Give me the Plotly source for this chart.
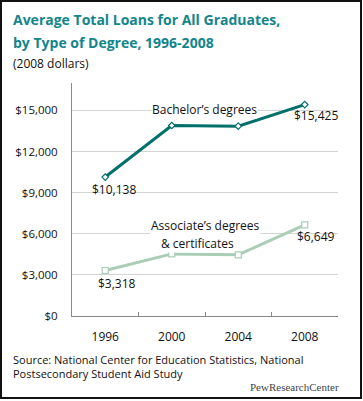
import plotly.graph_objects as go

years = ["1996", "2000", "2004", "2008"]
bachelor = [10138, 13900, 13850, 15425]
associate = [3318, 4530, 4460, 6649]
y_ticks = [0, 3000, 6000, 9000, 12000, 15000]
y_tick_text = ["$0", "$3,000", "$6,000", "$9,000", "$12,000", "$15,000"]

W, H = 363, 401
L, R, T, B = 72, 338, 83, 316
FONT = "Open Sans"

def px(x):
    return (x - L) / (R - L)

def py(y):
    return (B - y) / (B - T)

fig = go.Figure()
fig.add_trace(go.Scatter(
    x=years, y=associate, mode="lines+markers",
    line=dict(color="#a9cdb5", width=3),
    marker=dict(symbol="square", size=6, color="white",
                line=dict(color="#a9cdb5", width=1.2)),
    hoverinfo="skip", showlegend=False))
fig.add_trace(go.Scatter(
    x=years, y=bachelor, mode="lines+markers",
    line=dict(color="#00706a", width=3),
    marker=dict(symbol="diamond", size=5, color="white",
                line=dict(color="#00706a", width=1.2)),
    hoverinfo="skip", showlegend=False))

txt = dict(family=FONT, size=12, color="#111")
ann = []
# value labels (x given as category index)
ann.append(dict(x=0, y=bachelor[0], text="$10,138", showarrow=False,
                xanchor="center", yanchor="middle",
                xshift=9, yshift=-12, font=txt))
ann.append(dict(x=3, y=bachelor[3], text="$15,425", showarrow=False,
                xanchor="center", yanchor="middle",
                xshift=11, yshift=-11, font=txt))
ann.append(dict(x=0, y=associate[0], text="$3,318", showarrow=False,
                xanchor="center", yanchor="middle",
                xshift=12, yshift=-13, font=txt))
ann.append(dict(x=3, y=associate[3], text="$6,649", showarrow=False,
                xanchor="center", yanchor="middle",
                xshift=11, yshift=-12, font=txt))
# series labels
for x, y, t in [(204, 109, "Bachelor\u2019s degrees"),
                (205, 225, "Associate\u2019s degrees"),
                (197, 243, "& certificates")]:
    ann.append(dict(xref="paper", yref="paper", x=px(x), y=py(y),
                    xanchor="center", yanchor="middle",
                    text=t, showarrow=False, font=txt, bgcolor="white",
                    borderpad=0))
# title
TITLE_FONT = dict(family=FONT, size=14, color="#12858c")
for y, t, f in [(19, "<b>Average Total Loans for All Graduates,</b>", TITLE_FONT),
                (42, "<b>by Type of Degree, 1996-2008</b>", TITLE_FONT),
                (63, "(2008 dollars)", txt)]:
    ann.append(dict(xref="paper", yref="paper", x=px(11), y=py(y),
                    xanchor="left", yanchor="middle", showarrow=False,
                    text=t, font=f))
# source
for y, t in [(359, "Source: National Center for Education Statistics, National"),
             (373, "Postsecondary Student Aid Study")]:
    ann.append(dict(xref="paper", yref="paper", x=px(11), y=py(y),
                    xanchor="left", yanchor="middle", showarrow=False,
                    text=t, font=dict(family=FONT, size=11, color="#111")))
ann.append(dict(xref="paper", yref="paper", x=px(341), y=py(387),
                xanchor="right", yanchor="middle", showarrow=False,
                text="PewResearch<span style='font-weight:300'>Center</span>",
                font=dict(family="Liberation Serif", size=11, color="#444")))

fig.update_layout(
    width=W, height=H,
    margin=dict(l=L, r=W - R, t=T, b=H - B, pad=0),
    paper_bgcolor="white", plot_bgcolor="white",
    annotations=ann,
    shapes=[dict(type="rect", xref="paper", yref="paper",
                 x0=px(1), x1=px(361), y0=py(1), y1=py(398),
                 line=dict(color="#111", width=2), layer="above")],
    xaxis=dict(type="category", range=[-0.5, 3.5], showgrid=False,
               showline=True, linecolor="#888", linewidth=1,
               tickson="boundaries", ticks="inside", ticklen=4,
               tickcolor="#888", tickfont=txt, ticklabelstandoff=10),
    yaxis=dict(range=[0, 17000], tickvals=y_ticks, ticktext=y_tick_text,
               showgrid=True, gridcolor="#d4d4d4", gridwidth=1,
               showline=True, linecolor="#888", linewidth=1,
               zeroline=False, ticks="", tickfont=dict(family=FONT, size=11.5, color="#111"),
               ticklabelstandoff=11),
)
fig.write_html("out.html", config={"displayModeBar": False},
               post_script="document.body.style.margin='0';document.body.style.overflow='hidden';")
